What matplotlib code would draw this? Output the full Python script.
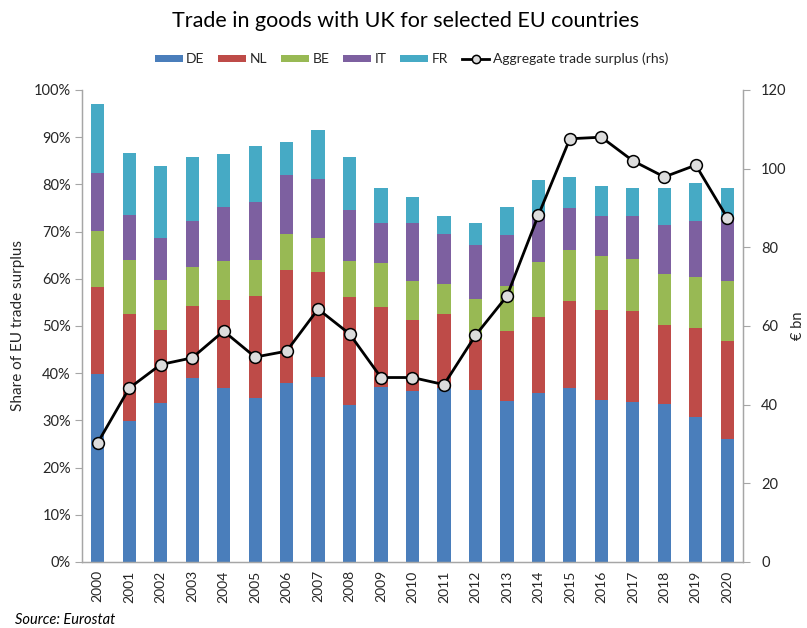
import matplotlib
matplotlib.use('Agg')
import matplotlib.pyplot as plt
from matplotlib.ticker import PercentFormatter
import numpy as np

FONT = ['Lato', 'DejaVu Sans']
plt.rcParams['font.family'] = FONT

years = [str(y) for y in range(2000, 2021)]

# share of EU trade surplus with UK, % (stacked)
de = [39.8, 29.9, 33.7, 39.0, 36.8, 34.7, 38.0, 39.2, 33.3, 37.1, 36.2,
      36.8, 36.4, 34.1, 35.9, 36.9, 34.4, 33.9, 33.5, 30.7, 26.1]
nl = [18.4, 22.6, 15.4, 15.3, 18.8, 21.7, 23.9, 22.2, 22.8, 16.9, 15.0,
      15.7, 10.6, 14.8, 15.9, 18.4, 19.0, 19.3, 16.7, 18.9, 20.7]
be = [11.9, 11.4, 10.6, 8.2, 8.1, 7.6, 7.5, 7.3, 7.6, 9.3, 8.3,
      6.3, 8.8, 9.5, 11.8, 10.9, 11.5, 11.0, 10.9, 10.8, 12.7]
it = [12.4, 9.7, 9.0, 9.8, 11.6, 12.3, 12.5, 12.5, 10.9, 8.5, 12.3,
      10.6, 11.4, 10.9, 10.4, 8.7, 8.3, 9.1, 10.2, 11.8, 13.4]
fr = [14.6, 13.0, 15.1, 13.5, 11.1, 11.8, 7.1, 10.4, 11.3, 7.4, 5.5,
      3.9, 4.6, 5.9, 6.9, 6.7, 6.4, 5.9, 7.9, 8.1, 6.3]

# aggregate trade surplus, EUR bn (rhs)
surplus = [30.3, 44.2, 50.2, 51.9, 58.7, 52.1, 53.6, 64.3, 58.0, 46.9, 46.9,
           45.1, 57.6, 67.6, 88.2, 107.6, 108.0, 102.0, 97.9, 100.9, 87.5]

series = [('DE', de, '#4a7ebb'), ('NL', nl, '#be4b48'), ('BE', be, '#98b954'),
          ('IT', it, '#7d60a0'), ('FR', fr, '#46aac5')]

AXIS_GRAY = '#a6a6a6'
TXT = '#262626'

fig = plt.figure(figsize=(8.07, 6.28), dpi=100)
ax = fig.add_axes([0.1016, 0.1051, 0.8191, 0.7516])
x = np.arange(len(years))

bottom = np.zeros(len(years))
handles = []
for name, vals, col in series:
    b = ax.bar(x, vals, width=0.42, bottom=bottom, color=col, label=name,
               zorder=2)
    handles.append(b)
    bottom += np.array(vals)

ax.set_xlim(-0.5, len(years) - 0.5)
ax.set_ylim(0, 100)
ax.set_yticks(np.arange(0, 101, 10))
ax.yaxis.set_major_formatter(PercentFormatter(decimals=0))
ax.set_xticks(x)
ax.set_xticklabels(years, rotation=90)
ax.tick_params(axis='x', length=0, pad=6, labelsize=10, colors=TXT)
ax.tick_params(axis='y', length=5, width=0.8, color=AXIS_GRAY, pad=3,
               labelsize=10.5, labelcolor=TXT)
ax.set_ylabel('Share of EU trade surplus', fontsize=11, color=TXT, labelpad=6)

ax2 = ax.twinx()
line, = ax2.plot(x, surplus, color='black', lw=2, marker='o', ms=8.5,
                 mfc='#dcdcdc', mec='black', mew=1.1, zorder=3,
                 label='Aggregate trade surplus (rhs)')
ax2.set_ylim(0, 120)
ax2.set_yticks(np.arange(0, 121, 20))
ax2.tick_params(axis='y', length=5, width=0.8, color=AXIS_GRAY, pad=8,
                labelsize=10.5, labelcolor=TXT)
ax2.set_ylabel('€ bn', fontsize=10.5, color=TXT)
ax2.yaxis.set_label_coords(1.072, 0.5)

for a in (ax, ax2):
    a.spines['top'].set_visible(False)
    for s in ('left', 'right', 'bottom'):
        a.spines[s].set_color(AXIS_GRAY)
        a.spines[s].set_linewidth(0.9)

fig.text(0.502, 0.967, 'Trade in goods with UK for selected EU countries',
         ha='center', va='center', fontsize=15.5, color='black')

fig.legend(handles + [line], [h.get_label() for h in handles] + [line.get_label()],
           loc='center', bbox_to_anchor=(0.51, 0.906), ncol=6, frameon=False,
           fontsize=10, handlelength=2.0, handleheight=0.45, markerscale=0.7,
           columnspacing=1.0, handletextpad=0.25, labelcolor=TXT)

fig.text(0.018, 0.013, 'Source: Eurostat', fontsize=10.5, style='italic',
         color='black', ha='left', va='center')

fig.savefig('out.png', dpi=100, facecolor='white')
